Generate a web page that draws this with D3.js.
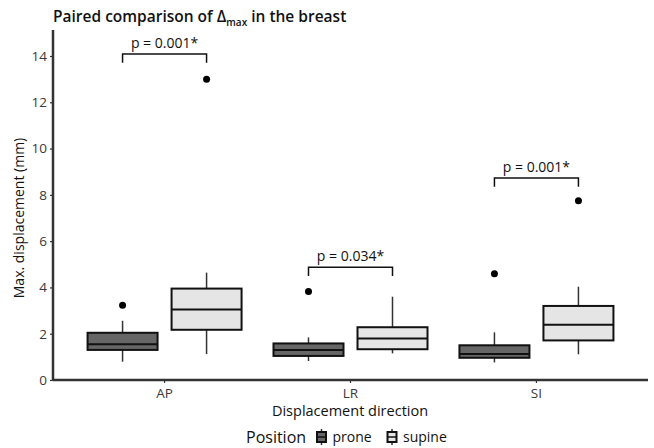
<!DOCTYPE html>
<html>
<head>
<meta charset="utf-8">
<script src="https://cdn.jsdelivr.net/npm/d3@7"></script>
<style>
  body { margin: 0; background: #fff; }
  text { font-family: "Open Sans", "Noto Sans", sans-serif; }
</style>
</head>
<body>
<div id="chart"></div>
<script>
// categories and groups
var directions = ["AP", "LR", "SI"];
var positions = ["prone", "supine"];

// box stats: [whiskerLow, q1, median, q3, whiskerHigh]
var proneStats = [
  [0.79, 1.30, 1.54, 2.04, 2.56],
  [0.82, 1.04, 1.30, 1.58, 1.84],
  [0.76, 0.96, 1.12, 1.50, 2.06]
];
var supineStats = [
  [1.12, 2.17, 3.05, 3.95, 4.64],
  [1.15, 1.33, 1.79, 2.28, 3.60],
  [1.11, 1.71, 2.39, 3.20, 4.03]
];
var proneOutliers = [[3.23], [3.82], [4.59]];
var supineOutliers = [[13.0], [], [7.75]];

// significance brackets
var pLabels = ["p = 0.001*", "p = 0.034*", "p = 0.001*"];
var bracketTop = [14.09, 4.87, 8.73];
var bracketLeg = 0.38;

var yTicks = [0, 2, 4, 6, 8, 10, 12, 14];

var width = 654, height = 448;
var margin = {left: 53, right: 6, top: 33, bottom: 68};

var svg = d3.select("#chart")
    .append("svg")
    .attr("width", width)
    .attr("height", height);

var x = d3.scaleBand()
    .domain(directions)
    .range([margin.left, width - margin.right])
    .paddingOuter(0.1)
    .paddingInner(0);

var y = d3.scaleLinear()
    .domain([0, 14])
    .range([380, 56]);

var fill = d3.scaleOrdinal().domain(positions).range(["#666666", "#e5e5e5"]);

var boxW = 70;
var offset = 42;

// build rows
var rows = [];
directions.forEach(function (d, i) {
    rows.push({dir: d, pos: "prone", s: proneStats[i], out: proneOutliers[i]});
    rows.push({dir: d, pos: "supine", s: supineStats[i], out: supineOutliers[i]});
});

function cx(r) {
    return x(r.dir) + x.bandwidth() / 2 + (r.pos === "prone" ? -offset : offset);
}

var g = svg.append("g");

// whiskers
g.selectAll("line.whisk")
    .data(rows)
    .enter()
    .append("line")
    .attr("class", "whisk")
    .attr("x1", cx).attr("x2", cx)
    .attr("y1", function (r) { return y(r.s[0]); })
    .attr("y2", function (r) { return y(r.s[4]); })
    .attr("stroke", "#333333")
    .attr("stroke-width", 1.5);

// boxes
g.selectAll("rect.box")
    .data(rows)
    .enter()
    .append("rect")
    .attr("class", "box")
    .attr("x", function (r) { return cx(r) - boxW / 2; })
    .attr("width", boxW)
    .attr("y", function (r) { return y(r.s[3]); })
    .attr("height", function (r) { return y(r.s[1]) - y(r.s[3]); })
    .attr("fill", function (r) { return fill(r.pos); })
    .attr("stroke", "#111")
    .attr("stroke-width", 2);

// medians
g.selectAll("line.med")
    .data(rows)
    .enter()
    .append("line")
    .attr("class", "med")
    .attr("x1", function (r) { return cx(r) - boxW / 2; })
    .attr("x2", function (r) { return cx(r) + boxW / 2; })
    .attr("y1", function (r) { return y(r.s[2]); })
    .attr("y2", function (r) { return y(r.s[2]); })
    .attr("stroke", "#111")
    .attr("stroke-width", 2);

// outliers
var outPts = [];
rows.forEach(function (r) {
    r.out.forEach(function (v) { outPts.push({r: r, v: v}); });
});
g.selectAll("circle.out")
    .data(outPts)
    .enter()
    .append("circle")
    .attr("cx", function (p) { return cx(p.r); })
    .attr("cy", function (p) { return y(p.v); })
    .attr("r", 3.5)
    .attr("fill", "#000");

// brackets
directions.forEach(function (d, i) {
    var x1 = x(d) + x.bandwidth() / 2 - offset;
    var x2 = x(d) + x.bandwidth() / 2 + offset;
    var top = y(bracketTop[i]);
    var leg = y(bracketTop[i] - bracketLeg);
    svg.append("path")
        .attr("d", "M" + x1 + "," + leg + "V" + top + "H" + x2 + "V" + leg)
        .attr("fill", "none")
        .attr("stroke", "#111")
        .attr("stroke-width", 1.5);
    svg.append("text")
        .attr("x", (x1 + x2) / 2)
        .attr("y", top - 6)
        .attr("text-anchor", "middle")
        .attr("font-size", 14)
        .attr("fill", "#111")
        .text(pLabels[i]);
});

// axes
var yAxis = svg.append("g")
    .attr("transform", "translate(" + margin.left + ",0)")
    .call(d3.axisLeft(y).tickValues(yTicks).tickSize(3).tickSizeOuter(0));
var xAxis = svg.append("g")
    .attr("transform", "translate(0,380)")
    .call(d3.axisBottom(x).tickSize(3).tickSizeOuter(0));

[xAxis, yAxis].forEach(function (a) {
    a.select(".domain").attr("stroke", "#333").attr("stroke-width", 2.5);
    a.selectAll(".tick line").attr("stroke", "#333").attr("stroke-width", 1.2);
    a.selectAll(".tick text")
        .attr("fill", "#3a3a3a")
        .attr("font-size", 13.5)
        .style("font-family", "'Open Sans', 'Noto Sans', sans-serif");
});
xAxis.select(".domain").attr("d", "M" + margin.left + ",0H" + (width - margin.right));
yAxis.select(".domain").attr("d", "M0,380V30");
yAxis.selectAll(".tick text").attr("x", -6);
xAxis.selectAll(".tick text").attr("y", 8);

// axis titles
svg.append("text")
    .attr("x", 350).attr("y", 416)
    .attr("text-anchor", "middle")
    .attr("font-size", 14.5)
    .attr("fill", "#111")
    .text("Displacement direction");

svg.append("text")
    .attr("transform", "translate(24,218) rotate(-90)")
    .attr("text-anchor", "middle")
    .attr("font-size", 14)
    .attr("fill", "#111")
    .text("Max. displacement (mm)");

// title
var title = svg.append("text")
    .attr("x", 53).attr("y", 22)
    .attr("font-size", 15.5)
    .attr("font-weight", 600)
    .attr("fill", "#111");
title.append("tspan").text("Paired comparison of \u0394");
title.append("tspan").attr("font-size", 10).attr("dy", 4).text("max");
title.append("tspan").attr("dy", -4).text(" in the breast");

// legend
var lg = svg.append("g").attr("transform", "translate(0,437)");
lg.append("text")
    .attr("x", 246).attr("y", 6)
    .attr("font-size", 16)
    .attr("fill", "#111")
    .text("Position");
var keyX = [321.5, 392];
positions.forEach(function (p, i) {
    var k = lg.append("g").attr("transform", "translate(" + keyX[i] + ",0)");
    k.append("line").attr("y1", -8).attr("y2", 8)
        .attr("stroke", "#333").attr("stroke-width", 1.5);
    k.append("rect").attr("x", -4.5).attr("y", -5).attr("width", 9).attr("height", 10)
        .attr("fill", fill(p)).attr("stroke", "#111").attr("stroke-width", 2);
    k.append("line").attr("x1", -4.5).attr("x2", 4.5)
        .attr("stroke", "#111").attr("stroke-width", 1.5);
    lg.append("text")
        .attr("x", keyX[i] + 11).attr("y", 5)
        .attr("font-size", 14)
        .attr("fill", "#111")
        .text(p);
});
</script>
</body>
</html>
